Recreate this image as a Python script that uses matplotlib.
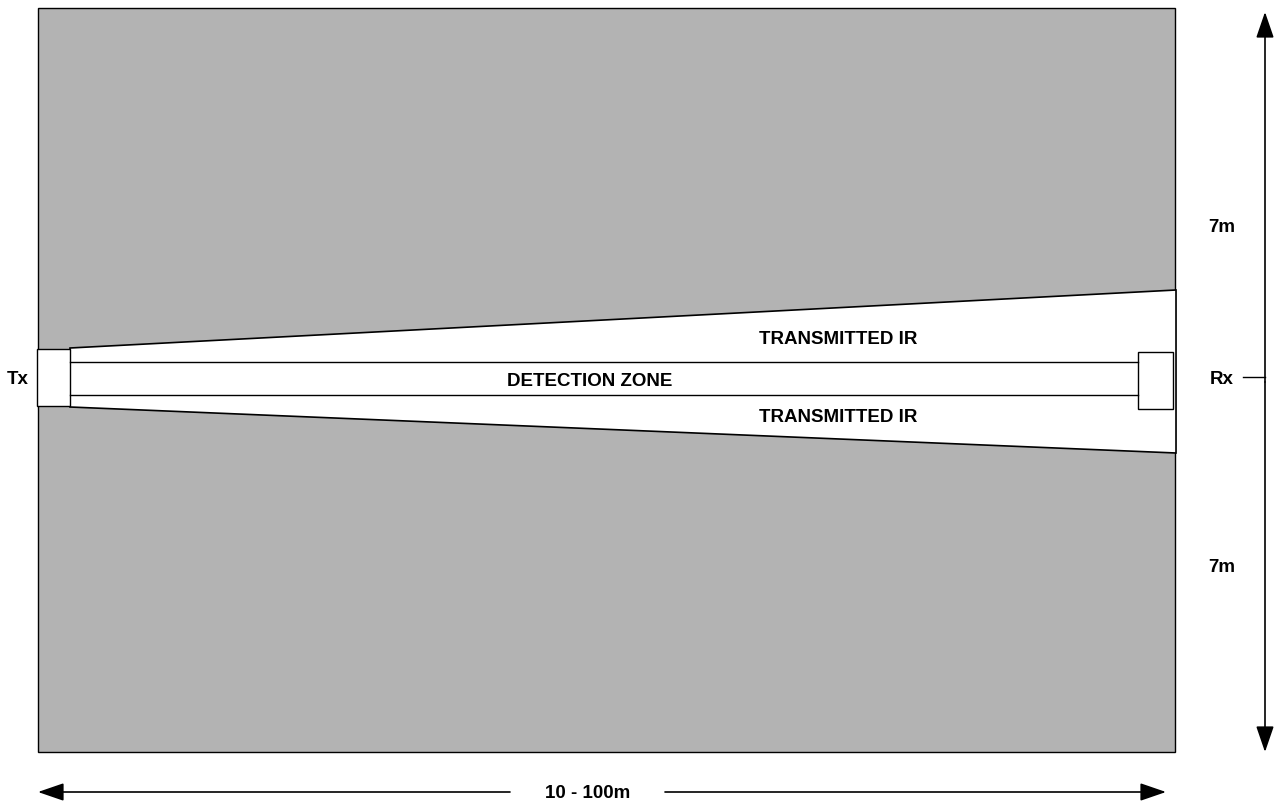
import matplotlib
matplotlib.use("Agg")
import matplotlib.pyplot as plt
from matplotlib.patches import Polygon, Rectangle

# geometry (pixel units of the diagram)
field_x = [38, 1175]
field_y = [8, 752]
beam_left = [70, 348, 407]     # x, top y, bottom y
beam_right = [1176, 290, 453]
tx_box = [37, 349, 70, 406]    # x0, y0, x1, y1
rx_box = [1138, 352, 1173, 409]
zone_y = [362, 395]
zone_x = [70, 1138]
v_arrow = [1265, 12, 752]
rx_tick = [1243, 1265, 377]
h_arrow = [792, 38, 1166]
h_gap = [510, 665]

labels = ["TRANSMITTED IR", "DETECTION ZONE", "TRANSMITTED IR", "Tx", "Rx", "7m", "7m", "10 - 100m"]
label_pos = [(838, 340), (590, 382), (838, 417), (18, 380), (1222, 380), (1222, 228), (1222, 567), (588, 794)]

fig = plt.figure(figsize=(12.77, 8.02), dpi=100)
ax = fig.add_axes([0, 0, 1, 1])
ax.set_xlim(0, 1277)
ax.set_ylim(802, 0)
ax.axis("off")

ax.add_patch(Rectangle((field_x[0], field_y[0]), field_x[1] - field_x[0], field_y[1] - field_y[0],
                       facecolor="#b3b3b3", edgecolor="black", lw=1.0))
ax.add_patch(Polygon([(beam_left[0], beam_left[1]), (beam_right[0], beam_right[1]),
                      (beam_right[0], beam_right[2]), (beam_left[0], beam_left[2])],
                     closed=True, facecolor="white", edgecolor="black", lw=1.2))
ax.add_patch(Rectangle((tx_box[0], tx_box[1]), tx_box[2] - tx_box[0], tx_box[3] - tx_box[1],
                       facecolor="white", edgecolor="black", lw=1.0))
ax.add_patch(Rectangle((rx_box[0], rx_box[1]), rx_box[2] - rx_box[0], rx_box[3] - rx_box[1],
                       facecolor="white", edgecolor="black", lw=1.0))
for y in zone_y:
    ax.plot(zone_x, [y, y], color="black", lw=1.0)

astyle = "-|>,head_length=1.6,head_width=0.55"
# vertical double arrow
mid_v = (v_arrow[1] + v_arrow[2]) / 2
for tip in (v_arrow[1], v_arrow[2]):
    ax.annotate("", xy=(v_arrow[0], tip), xytext=(v_arrow[0], mid_v),
                arrowprops=dict(arrowstyle=astyle, color="black", lw=1.2, shrinkA=0, shrinkB=0))
ax.plot([rx_tick[0], rx_tick[1]], [rx_tick[2], rx_tick[2]], color="black", lw=1.0)

# horizontal arrow with gap for label
ax.annotate("", xy=(h_arrow[1], h_arrow[0]), xytext=(h_gap[0], h_arrow[0]),
            arrowprops=dict(arrowstyle=astyle, color="black", lw=1.2, shrinkA=0, shrinkB=0))
ax.annotate("", xy=(h_arrow[2], h_arrow[0]), xytext=(h_gap[1], h_arrow[0]),
            arrowprops=dict(arrowstyle=astyle, color="black", lw=1.2, shrinkA=0, shrinkB=0))

for t, (x, y) in zip(labels, label_pos):
    ax.text(x, y, t, ha="center", va="center", fontsize=13.5, fontweight="bold",
            family="Liberation Sans")

fig.savefig("out.png", dpi=100)
